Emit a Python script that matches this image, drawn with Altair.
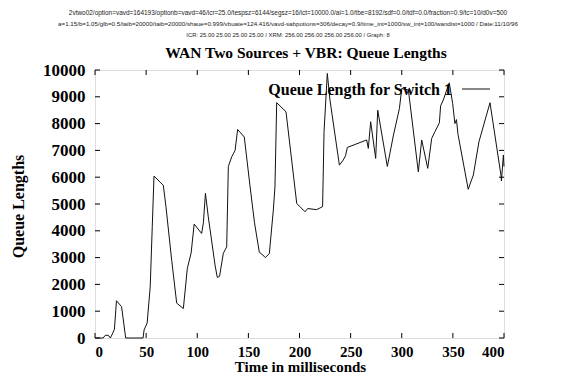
import altair as alt
import pandas as pd

# ---- data ----
time_ms = [0, 8, 10, 13, 15, 17, 19, 21, 26, 30, 47, 48, 51, 54, 56, 57.7,
           66.8, 69.4, 75, 79.9, 86.4, 90.3, 94, 97, 104.3, 106, 108, 110.8,
           117.4, 119.6, 121.8, 125.5, 128.8, 130.4, 133.7, 137, 139.5, 146,
           151.5, 156, 160.7, 164, 166.5, 170.5, 174.4, 176, 177.7, 186.8,
           197.3, 205.4, 208, 216.8, 222.6, 224, 227.2, 229.8, 239, 242.8,
           245, 246.8, 265.7, 267.3, 269.6, 274.5, 276.5, 285.9, 291.9, 297.7,
           300, 306.5, 316.2, 319.5, 325.4, 329.3, 332.5, 336.8, 338, 340.6,
           346.5, 349.8, 352, 353.5, 355, 365, 370, 375.5, 386.3, 397, 397.5,
           399.4, 400]
queue_len = [0, 0, 100, 100, 0, 150, 330, 1390, 1170, 0, 0, 300, 560, 1910,
             4150, 6040, 5700, 4900, 2900, 1300, 1100, 2600, 3170, 4250, 3900,
             4300, 5400, 4520, 2720, 2260, 2300, 3160, 3400, 6400, 6760, 7000,
             7780, 7500, 5700, 4300, 3200, 3100, 3000, 3150, 4770, 5640, 8780,
             8440, 5020, 4710, 4830, 4790, 4900, 7700, 9870, 8880, 6450, 6640,
             6800, 7110, 7390, 7075, 8070, 6700, 8500, 6400, 7570, 8560, 9310,
             9250, 6200, 7390, 6330, 7450, 7700, 8030, 8660, 8880, 9520, 8750,
             8000, 8150, 7600, 5550, 6080, 7320, 8780, 6080, 5860, 6830, 6400]

x_ticks = [0, 50, 100, 150, 200, 250, 300, 350, 400]
y_ticks = [0, 1000, 2000, 3000, 4000, 5000, 6000, 7000, 8000, 9000, 10000]

header_lines = [
    "2vtwo02/option=vavd=164193/optionb=vavd=46/icr=25.0/tespsz=6144/segsz=16/ict=10000.0/ai=1.0/tbe=8192/sdf=0.0/tdf=0.0/fraction=0.9/tc=10/d0v=500",
    "a=1.15/b=1.05/glb=0.5/taib=20000/taib=20000/shaue=0.999/vbuate=124.416/vavd-sabpotions=306/decay=0.9/time_int=1000/sw_int=100/wandist=1000 / Date:11/10/96",
    "ICR: 25.00 25.00 25.00 25.00 / XRM: 256.00 256.00 256.00 256.00 / Graph: 8",
]
main_title = "WAN Two Sources + VBR: Queue Lengths"
legend_label = "Queue Length for Switch 1"

W, H = 409, 268
SERIF = "Liberation Serif"

df = pd.DataFrame({"t": time_ms, "q": queue_len})
xt = pd.DataFrame({"t": x_ticks})
yt = pd.DataFrame({"q": y_ticks})

xscale = alt.Scale(domain=[0, 400], nice=False, zero=False)
yscale = alt.Scale(domain=[0, 10000], nice=False)

x_axis = alt.Axis(values=x_ticks, title="Time in milliseconds", format="d",
                  ticks=False, domain=False, grid=False,
                  labelFont=SERIF, labelFontWeight="bold", labelFontSize=15,
                  labelColor="black", labelPadding=6,
                  titleFont=SERIF, titleFontWeight="bold", titleFontSize=15,
                  titleColor="black", titleX=205, titleY=33,
                  titleBaseline="alphabetic", titleAlign="center")
y_axis = alt.Axis(values=y_ticks, title="Queue Lengths", format="d",
                  ticks=False, domain=False, grid=False,
                  labelFont=SERIF, labelFontWeight="bold", labelFontSize=17,
                  labelColor="black", labelPadding=10,
                  titleFont=SERIF, titleFontWeight="bold", titleFontSize=16,
                  titleColor="black", titleX=-77, titleY=136, titleAngle=270,
                  titleBaseline="middle", titleAlign="center")

line = alt.Chart(df).mark_line(color="#111111", strokeWidth=1).encode(
    x=alt.X("t:Q", scale=xscale, axis=x_axis, title="Time in milliseconds"),
    y=alt.Y("q:Q", scale=yscale, axis=y_axis, title="Queue Lengths"),
)

tick_len = 5
yt_left = alt.Chart(yt).mark_rule(color="black", strokeWidth=1).encode(
    y=alt.Y("q:Q", scale=yscale, axis=y_axis, title="Queue Lengths"),
    x=alt.value(0), x2=alt.value(tick_len))
yt_right = alt.Chart(yt).mark_rule(color="black", strokeWidth=1).encode(
    y=alt.Y("q:Q", scale=yscale, axis=y_axis, title="Queue Lengths"),
    x=alt.value(W - tick_len), x2=alt.value(W))
xt_bot = alt.Chart(xt).mark_rule(color="black", strokeWidth=1).encode(
    x=alt.X("t:Q", scale=xscale, axis=x_axis, title="Time in milliseconds"),
    y=alt.value(H - tick_len), y2=alt.value(H))
xt_top = alt.Chart(xt).mark_rule(color="black", strokeWidth=1).encode(
    x=alt.X("t:Q", scale=xscale, axis=x_axis, title="Time in milliseconds"),
    y=alt.value(0), y2=alt.value(tick_len))

header_y = [-57, -46, -35]
header_size = [6.45, 6.2, 5.9]
header_layers = [
    alt.Chart(pd.DataFrame({"txt": [txt]})).mark_text(
        font="Liberation Sans", fontSize=fs, color="#222222",
        align="center", baseline="middle").encode(
        text="txt:N", x=alt.value(193), y=alt.value(yy))
    for txt, yy, fs in zip(header_lines, header_y, header_size)
]

title = alt.Chart(pd.DataFrame({"txt": [main_title]})).mark_text(
    font=SERIF, fontWeight="bold", fontSize=15.5, color="black",
    align="center", baseline="middle").encode(
    text="txt:N", x=alt.value(211), y=alt.value(-17))

legend_text = alt.Chart(pd.DataFrame({"txt": [legend_label]})).mark_text(
    font=SERIF, fontWeight="bold", fontSize=16, color="black",
    align="right", baseline="middle").encode(
    text="txt:N", x=alt.value(357), y=alt.value(20))
legend_line = alt.Chart(pd.DataFrame({"txt": [legend_label]})).mark_rule(
    color="#111111", strokeWidth=1).encode(
    x=alt.value(367), x2=alt.value(395), y=alt.value(19))

chart = alt.layer(
    line, yt_left, yt_right, xt_bot, xt_top, *header_layers, title,
    legend_text, legend_line
).properties(
    width=W, height=H,
    autosize=alt.AutoSizeParams(type="none"),
    padding={"left": 87, "top": 62, "right": 62, "bottom": 35},
).configure_view(stroke="black", strokeWidth=1).configure(background="white")

chart.save("out.html", embed_options={"renderer": "svg", "actions": False})
